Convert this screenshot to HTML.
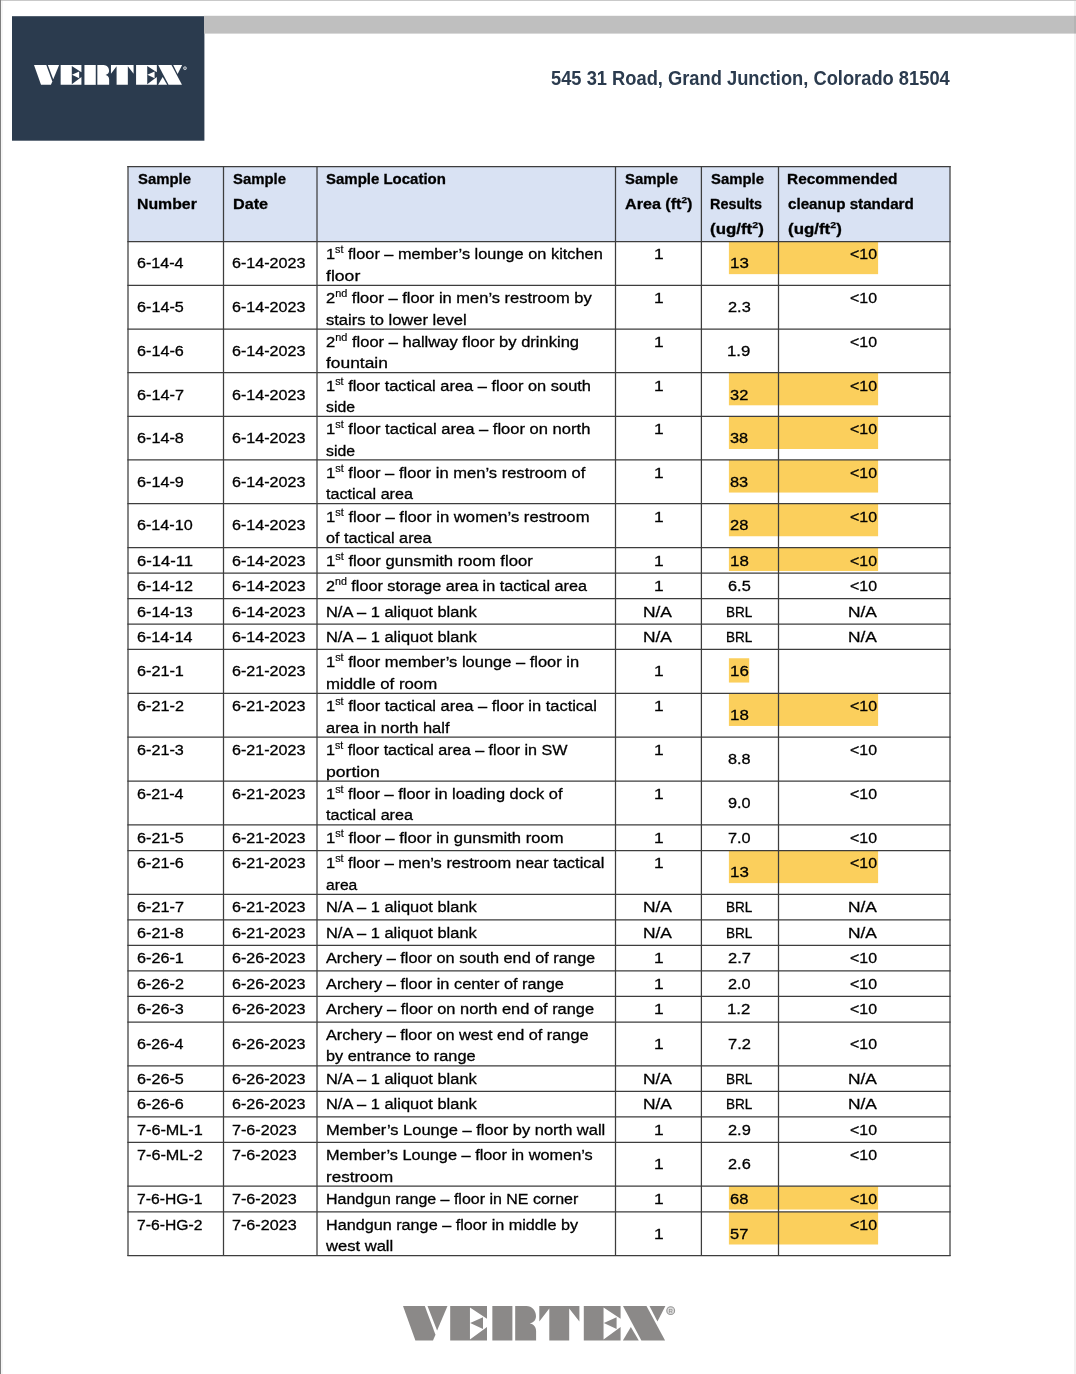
<!DOCTYPE html>
<html><head><meta charset="utf-8"><title>VERTEX sample results</title>
<style>
html,body{margin:0;padding:0;background:#fff;}
body{width:1076px;height:1374px;position:relative;overflow:hidden;font-family:"Liberation Sans",sans-serif;color:#000;}
.a{position:absolute;}
.t,.b,.addr{position:absolute;white-space:nowrap;transform-origin:0 0;line-height:20px;font-size:15.3px;}
.t{-webkit-text-stroke:0.3px #000;}
.b{font-weight:bold;font-size:15.3px;-webkit-text-stroke:0.3px #000;}
.addr{font-weight:bold;font-size:20.4px;line-height:26px;color:#2b3b4e;}
.sp{font-size:0.66em;position:relative;top:-0.6em;line-height:0;-webkit-text-stroke-width:0.18px;}
.b .sp{font-size:0.63em;top:-0.63em;-webkit-text-stroke-width:0.25px;}
#tx{position:absolute;left:0;top:0;width:1076px;height:1374px;will-change:transform;}
</style></head>
<body>
<svg class="a" style="left:0;top:0" width="1076" height="1374" viewBox="0 0 1076 1374"><rect x="12" y="16.2" width="192.4" height="124.5" fill="#2b3b4e"/><rect x="204" y="15.8" width="872" height="17.8" fill="#bfbfbf"/><rect x="128.00" y="166.60" width="822.00" height="74.95" fill="#d9e2f3"/><rect x="728.90" y="241.55" width="149.20" height="32.60" fill="#fbcf5c"/><rect x="728.90" y="372.70" width="149.20" height="32.60" fill="#fbcf5c"/><rect x="728.90" y="416.40" width="149.20" height="32.60" fill="#fbcf5c"/><rect x="728.90" y="459.95" width="149.20" height="32.60" fill="#fbcf5c"/><rect x="728.90" y="503.65" width="149.20" height="32.60" fill="#fbcf5c"/><rect x="728.90" y="547.60" width="149.20" height="23.40" fill="#fbcf5c"/><rect x="728.90" y="658.25" width="20.30" height="24.30" fill="#fbcf5c"/><rect x="728.90" y="693.35" width="149.20" height="32.60" fill="#fbcf5c"/><rect x="728.90" y="850.50" width="149.20" height="32.60" fill="#fbcf5c"/><rect x="728.90" y="1186.15" width="149.20" height="23.40" fill="#fbcf5c"/><rect x="728.90" y="1211.90" width="149.20" height="32.60" fill="#fbcf5c"/><rect x="0" y="0" width="1076" height="1" fill="#c9c9c9"/><rect x="0" y="0" width="1" height="1374" fill="#7f7f7f"/><rect x="1" y="1" width="2" height="1374" fill="#000" fill-opacity="0.035"/><rect x="1074" y="1" width="2" height="1374" fill="#000" fill-opacity="0.055"/></svg>
<svg class="a" style="left:33.85px;top:65px;overflow:visible" width="148.15" height="19.85" viewBox="0 0 262.4 34.7" preserveAspectRatio="none" fill="#fff"><path d="M0,0H21.8L32.5,28.9L30,34.7H12.4Z"/><path d="M24.5,0H44.5L34.1,24.7Z"/>
<g transform="translate(47.2,0)"><path d="M0,0H36.8V12.8L19.75,1.6V33.7L36.8,21.1V34.7H0Z M20,17.2L32.8,11.2V23.2Z"/></g>
<path d="M89.35,0H109.4V34.7H89.35Z"/>
<path d="M112.2,0H123.4C129,0.2 133,4.4 133,10.2C133,14 130.6,16.6 126.7,17.4C130.6,18.3 133.1,21 133.1,25.2V34.7H112.2Z"/>
<path d="M136.3,0H176.4V15.5L166.2,2.4V34.7H146.3V2.4L136.3,15.5Z"/>
<g transform="translate(180.8,0)"><path d="M0,0H36.8V12.8L19.75,1.6V33.7L36.8,21.1V34.7H0Z M20,17.2L32.8,11.2V23.2Z"/></g>
<path d="M220,0H243.5L262.1,34.7H238.4Z"/><path d="M246.5,0H262.4L254.45,15.7Z"/><path d="M219.9,34.7H235.8L227.85,21.1Z"/><circle cx="267.4" cy="5.6" r="2.6" fill="#fff" fill-opacity="0.35" stroke="#e4e7ea" stroke-width="1.2"/></svg>
<svg class="a" style="left:0;top:0" width="1076" height="1374" viewBox="0 0 1076 1374" fill="none" stroke="#3d3d3d" stroke-width="1.25"><path d="M127.38,166.60H950.62"/><path d="M127.38,241.55H950.62"/><path d="M127.38,285.35H950.62"/><path d="M127.38,329.10H950.62"/><path d="M127.38,372.70H950.62"/><path d="M127.38,416.40H950.62"/><path d="M127.38,459.95H950.62"/><path d="M127.38,503.65H950.62"/><path d="M127.38,547.60H950.62"/><path d="M127.38,573.10H950.62"/><path d="M127.38,598.60H950.62"/><path d="M127.38,624.05H950.62"/><path d="M127.38,649.45H950.62"/><path d="M127.38,693.35H950.62"/><path d="M127.38,737.20H950.62"/><path d="M127.38,781.10H950.62"/><path d="M127.38,824.95H950.62"/><path d="M127.38,850.50H950.62"/><path d="M127.38,894.45H950.62"/><path d="M127.38,919.90H950.62"/><path d="M127.38,945.40H950.62"/><path d="M127.38,970.90H950.62"/><path d="M127.38,996.40H950.62"/><path d="M127.38,1022.00H950.62"/><path d="M127.38,1065.80H950.62"/><path d="M127.38,1091.30H950.62"/><path d="M127.38,1116.95H950.62"/><path d="M127.38,1142.40H950.62"/><path d="M127.38,1186.15H950.62"/><path d="M127.38,1211.90H950.62"/><path d="M127.38,1255.50H950.62"/><path d="M128.00,165.98V1256.12"/><path d="M223.50,165.98V1256.12"/><path d="M317.00,165.98V1256.12"/><path d="M615.50,165.98V1256.12"/><path d="M701.40,165.98V1256.12"/><path d="M778.50,165.98V1256.12"/><path d="M950.00,165.98V1256.12"/></svg>
<div id="tx">
<span class="b" style="top:169px;left:137.57px;transform:scaleX(0.9746);">Sample</span>
<span class="b" style="top:194px;left:136.94px;transform:scaleX(1.0346);">Number</span>
<span class="b" style="top:169px;left:233.27px;transform:scaleX(0.9746);">Sample</span>
<span class="b" style="top:194px;left:232.62px;transform:scaleX(1.0598);">Date</span>
<span class="b" style="top:169px;left:326.47px;transform:scaleX(0.9792);">Sample Location</span>
<span class="b" style="top:169px;left:624.77px;transform:scaleX(0.9746);">Sample</span>
<span class="b" style="top:194px;left:624.80px;transform:scaleX(1.0545);">Area (ft<span class="sp">2</span>)</span>
<span class="b" style="top:169px;left:710.67px;transform:scaleX(0.9746);">Sample</span>
<span class="b" style="top:194px;left:710.13px;transform:scaleX(0.9438);">Results</span>
<span class="b" style="top:219px;left:710.26px;transform:scaleX(1.1043);">(ug/ft<span class="sp">2</span>)</span>
<span class="b" style="top:169px;left:787.47px;transform:scaleX(1.0072);">Recommended</span>
<span class="b" style="top:194px;left:787.91px;transform:scaleX(0.9932);">cleanup standard</span>
<span class="b" style="top:219px;left:787.66px;transform:scaleX(1.1043);">(ug/ft<span class="sp">2</span>)</span>
<span class="addr" style="top:65px;left:551.14px;transform:scaleX(0.8977);">545 31 Road, Grand Junction, Colorado 81504</span>
<span class="t" style="top:253px;left:137.00px;transform:scaleX(1.0532);">6-14-4</span>
<span class="t" style="top:253px;left:231.90px;transform:scaleX(1.0524);">6-14-2023</span>
<span class="t" style="top:244px;left:325.70px;transform:scaleX(1.0686);">1<span class="sp">st</span> floor – member’s lounge on kitchen</span>
<span class="t" style="top:266px;left:325.70px;transform:scaleX(1.1521);">floor</span>
<span class="t" style="top:244px;left:653.53px;transform:scaleX(1.1358);">1</span>
<span class="t" style="top:253px;left:729.61px;transform:scaleX(1.1069);">13</span>
<span class="t" style="top:244px;left:850.01px;transform:scaleX(1.0406);"><10</span>
<span class="t" style="top:297px;left:137.00px;transform:scaleX(1.0579);">6-14-5</span>
<span class="t" style="top:297px;left:231.90px;transform:scaleX(1.0524);">6-14-2023</span>
<span class="t" style="top:288px;left:325.70px;transform:scaleX(1.0778);">2<span class="sp">nd</span> floor – floor in men’s restroom by</span>
<span class="t" style="top:310px;left:325.70px;transform:scaleX(1.0809);">stairs to lower level</span>
<span class="t" style="top:288px;left:653.53px;transform:scaleX(1.1358);">1</span>
<span class="t" style="top:297px;left:727.88px;transform:scaleX(1.0694);">2.3</span>
<span class="t" style="top:288px;left:850.01px;transform:scaleX(1.0406);"><10</span>
<span class="t" style="top:341px;left:137.00px;transform:scaleX(1.0586);">6-14-6</span>
<span class="t" style="top:341px;left:231.90px;transform:scaleX(1.0524);">6-14-2023</span>
<span class="t" style="top:332px;left:325.70px;transform:scaleX(1.0815);">2<span class="sp">nd</span> floor – hallway floor by drinking</span>
<span class="t" style="top:353px;left:325.70px;transform:scaleX(1.1358);">fountain</span>
<span class="t" style="top:332px;left:653.53px;transform:scaleX(1.1358);">1</span>
<span class="t" style="top:341px;left:727.42px;transform:scaleX(1.0942);">1.9</span>
<span class="t" style="top:332px;left:850.01px;transform:scaleX(1.0406);"><10</span>
<span class="t" style="top:385px;left:137.00px;transform:scaleX(1.0610);">6-14-7</span>
<span class="t" style="top:385px;left:231.90px;transform:scaleX(1.0524);">6-14-2023</span>
<span class="t" style="top:376px;left:325.70px;transform:scaleX(1.0736);">1<span class="sp">st</span> floor tactical area – floor on south</span>
<span class="t" style="top:397px;left:325.70px;transform:scaleX(1.0335);">side</span>
<span class="t" style="top:376px;left:653.53px;transform:scaleX(1.1358);">1</span>
<span class="t" style="top:385px;left:730.28px;transform:scaleX(1.0726);">32</span>
<span class="t" style="top:376px;left:850.01px;transform:scaleX(1.0406);"><10</span>
<span class="t" style="top:428px;left:137.00px;transform:scaleX(1.0585);">6-14-8</span>
<span class="t" style="top:428px;left:231.90px;transform:scaleX(1.0524);">6-14-2023</span>
<span class="t" style="top:419px;left:325.70px;transform:scaleX(1.0824);">1<span class="sp">st</span> floor tactical area – floor on north</span>
<span class="t" style="top:441px;left:325.70px;transform:scaleX(1.0335);">side</span>
<span class="t" style="top:419px;left:653.53px;transform:scaleX(1.1358);">1</span>
<span class="t" style="top:428px;left:730.28px;transform:scaleX(1.0654);">38</span>
<span class="t" style="top:419px;left:850.01px;transform:scaleX(1.0406);"><10</span>
<span class="t" style="top:472px;left:137.00px;transform:scaleX(1.0599);">6-14-9</span>
<span class="t" style="top:472px;left:231.90px;transform:scaleX(1.0524);">6-14-2023</span>
<span class="t" style="top:463px;left:325.70px;transform:scaleX(1.0821);">1<span class="sp">st</span> floor – floor in men’s restroom of</span>
<span class="t" style="top:484px;left:325.70px;transform:scaleX(1.0535);">tactical area</span>
<span class="t" style="top:463px;left:653.53px;transform:scaleX(1.1358);">1</span>
<span class="t" style="top:472px;left:730.19px;transform:scaleX(1.0715);">83</span>
<span class="t" style="top:463px;left:850.01px;transform:scaleX(1.0406);"><10</span>
<span class="t" style="top:515px;left:137.00px;transform:scaleX(1.0568);">6-14-10</span>
<span class="t" style="top:515px;left:231.90px;transform:scaleX(1.0524);">6-14-2023</span>
<span class="t" style="top:507px;left:325.70px;transform:scaleX(1.0878);">1<span class="sp">st</span> floor – floor in women’s restroom</span>
<span class="t" style="top:528px;left:325.70px;transform:scaleX(1.0615);">of tactical area</span>
<span class="t" style="top:507px;left:653.53px;transform:scaleX(1.1358);">1</span>
<span class="t" style="top:515px;left:730.07px;transform:scaleX(1.0782);">28</span>
<span class="t" style="top:507px;left:850.01px;transform:scaleX(1.0406);"><10</span>
<span class="t" style="top:551px;left:137.00px;transform:scaleX(1.0836);">6-14-11</span>
<span class="t" style="top:551px;left:231.90px;transform:scaleX(1.0524);">6-14-2023</span>
<span class="t" style="top:551px;left:325.70px;transform:scaleX(1.0895);">1<span class="sp">st</span> floor gunsmith room floor</span>
<span class="t" style="top:551px;left:653.53px;transform:scaleX(1.1358);">1</span>
<span class="t" style="top:551px;left:729.61px;transform:scaleX(1.1063);">18</span>
<span class="t" style="top:551px;left:850.01px;transform:scaleX(1.0406);"><10</span>
<span class="t" style="top:576px;left:137.00px;transform:scaleX(1.0603);">6-14-12</span>
<span class="t" style="top:576px;left:231.90px;transform:scaleX(1.0524);">6-14-2023</span>
<span class="t" style="top:576px;left:325.70px;transform:scaleX(1.0573);">2<span class="sp">nd</span> floor storage area in tactical area</span>
<span class="t" style="top:576px;left:653.53px;transform:scaleX(1.1358);">1</span>
<span class="t" style="top:576px;left:727.87px;transform:scaleX(1.0682);">6.5</span>
<span class="t" style="top:576px;left:850.01px;transform:scaleX(1.0406);"><10</span>
<span class="t" style="top:602px;left:137.00px;transform:scaleX(1.0584);">6-14-13</span>
<span class="t" style="top:602px;left:231.90px;transform:scaleX(1.0524);">6-14-2023</span>
<span class="t" style="top:602px;left:325.70px;transform:scaleX(1.0745);">N/A – 1 aliquot blank</span>
<span class="t" style="top:602px;left:643.42px;transform:scaleX(1.1357);">N/A</span>
<span class="t" style="top:602px;left:725.79px;transform:scaleX(0.8856);">BRL</span>
<span class="t" style="top:602px;left:848.42px;transform:scaleX(1.1357);">N/A</span>
<span class="t" style="top:627px;left:137.00px;transform:scaleX(1.0538);">6-14-14</span>
<span class="t" style="top:627px;left:231.90px;transform:scaleX(1.0524);">6-14-2023</span>
<span class="t" style="top:627px;left:325.70px;transform:scaleX(1.0745);">N/A – 1 aliquot blank</span>
<span class="t" style="top:627px;left:643.42px;transform:scaleX(1.1357);">N/A</span>
<span class="t" style="top:627px;left:725.79px;transform:scaleX(0.8856);">BRL</span>
<span class="t" style="top:627px;left:848.42px;transform:scaleX(1.1357);">N/A</span>
<span class="t" style="top:661px;left:137.00px;transform:scaleX(1.0605);">6-21-1</span>
<span class="t" style="top:661px;left:231.90px;transform:scaleX(1.0524);">6-21-2023</span>
<span class="t" style="top:652px;left:325.70px;transform:scaleX(1.0761);">1<span class="sp">st</span> floor member’s lounge – floor in</span>
<span class="t" style="top:674px;left:325.70px;transform:scaleX(1.0992);">middle of room</span>
<span class="t" style="top:661px;left:653.53px;transform:scaleX(1.1358);">1</span>
<span class="t" style="top:661px;left:729.61px;transform:scaleX(1.1069);">16</span>
<span class="t" style="top:696px;left:137.00px;transform:scaleX(1.0610);">6-21-2</span>
<span class="t" style="top:696px;left:231.90px;transform:scaleX(1.0524);">6-21-2023</span>
<span class="t" style="top:696px;left:325.70px;transform:scaleX(1.0755);">1<span class="sp">st</span> floor tactical area – floor in tactical</span>
<span class="t" style="top:718px;left:325.70px;transform:scaleX(1.0755);">area in north half</span>
<span class="t" style="top:696px;left:653.53px;transform:scaleX(1.1358);">1</span>
<span class="t" style="top:705px;left:729.61px;transform:scaleX(1.1063);">18</span>
<span class="t" style="top:696px;left:850.01px;transform:scaleX(1.0406);"><10</span>
<span class="t" style="top:740px;left:137.00px;transform:scaleX(1.0586);">6-21-3</span>
<span class="t" style="top:740px;left:231.90px;transform:scaleX(1.0524);">6-21-2023</span>
<span class="t" style="top:740px;left:325.70px;transform:scaleX(1.0553);">1<span class="sp">st</span> floor tactical area – floor in SW</span>
<span class="t" style="top:762px;left:325.70px;transform:scaleX(1.1510);">portion</span>
<span class="t" style="top:740px;left:653.53px;transform:scaleX(1.1358);">1</span>
<span class="t" style="top:749px;left:727.99px;transform:scaleX(1.0634);">8.8</span>
<span class="t" style="top:740px;left:850.01px;transform:scaleX(1.0406);"><10</span>
<span class="t" style="top:784px;left:137.00px;transform:scaleX(1.0532);">6-21-4</span>
<span class="t" style="top:784px;left:231.90px;transform:scaleX(1.0524);">6-21-2023</span>
<span class="t" style="top:784px;left:325.70px;transform:scaleX(1.0727);">1<span class="sp">st</span> floor – floor in loading dock of</span>
<span class="t" style="top:805px;left:325.70px;transform:scaleX(1.0535);">tactical area</span>
<span class="t" style="top:784px;left:653.53px;transform:scaleX(1.1358);">1</span>
<span class="t" style="top:793px;left:727.94px;transform:scaleX(1.0626);">9.0</span>
<span class="t" style="top:784px;left:850.01px;transform:scaleX(1.0406);"><10</span>
<span class="t" style="top:828px;left:137.00px;transform:scaleX(1.0579);">6-21-5</span>
<span class="t" style="top:828px;left:231.90px;transform:scaleX(1.0524);">6-21-2023</span>
<span class="t" style="top:828px;left:325.70px;transform:scaleX(1.0863);">1<span class="sp">st</span> floor – floor in gunsmith room</span>
<span class="t" style="top:828px;left:653.53px;transform:scaleX(1.1358);">1</span>
<span class="t" style="top:828px;left:727.86px;transform:scaleX(1.0662);">7.0</span>
<span class="t" style="top:828px;left:850.01px;transform:scaleX(1.0406);"><10</span>
<span class="t" style="top:853px;left:137.00px;transform:scaleX(1.0586);">6-21-6</span>
<span class="t" style="top:853px;left:231.90px;transform:scaleX(1.0524);">6-21-2023</span>
<span class="t" style="top:853px;left:325.70px;transform:scaleX(1.0735);">1<span class="sp">st</span> floor – men’s restroom near tactical</span>
<span class="t" style="top:875px;left:325.70px;transform:scaleX(1.0220);">area</span>
<span class="t" style="top:853px;left:653.53px;transform:scaleX(1.1358);">1</span>
<span class="t" style="top:862px;left:729.61px;transform:scaleX(1.1069);">13</span>
<span class="t" style="top:853px;left:850.01px;transform:scaleX(1.0406);"><10</span>
<span class="t" style="top:897px;left:137.00px;transform:scaleX(1.0610);">6-21-7</span>
<span class="t" style="top:897px;left:231.90px;transform:scaleX(1.0524);">6-21-2023</span>
<span class="t" style="top:897px;left:325.70px;transform:scaleX(1.0745);">N/A – 1 aliquot blank</span>
<span class="t" style="top:897px;left:643.42px;transform:scaleX(1.1357);">N/A</span>
<span class="t" style="top:897px;left:725.79px;transform:scaleX(0.8856);">BRL</span>
<span class="t" style="top:897px;left:848.42px;transform:scaleX(1.1357);">N/A</span>
<span class="t" style="top:923px;left:137.00px;transform:scaleX(1.0585);">6-21-8</span>
<span class="t" style="top:923px;left:231.90px;transform:scaleX(1.0524);">6-21-2023</span>
<span class="t" style="top:923px;left:325.70px;transform:scaleX(1.0745);">N/A – 1 aliquot blank</span>
<span class="t" style="top:923px;left:643.42px;transform:scaleX(1.1357);">N/A</span>
<span class="t" style="top:923px;left:725.79px;transform:scaleX(0.8856);">BRL</span>
<span class="t" style="top:923px;left:848.42px;transform:scaleX(1.1357);">N/A</span>
<span class="t" style="top:948px;left:137.00px;transform:scaleX(1.0605);">6-26-1</span>
<span class="t" style="top:948px;left:231.90px;transform:scaleX(1.0524);">6-26-2023</span>
<span class="t" style="top:948px;left:325.70px;transform:scaleX(1.0652);">Archery – floor on south end of range</span>
<span class="t" style="top:948px;left:653.53px;transform:scaleX(1.1358);">1</span>
<span class="t" style="top:948px;left:727.87px;transform:scaleX(1.0747);">2.7</span>
<span class="t" style="top:948px;left:850.01px;transform:scaleX(1.0406);"><10</span>
<span class="t" style="top:974px;left:137.00px;transform:scaleX(1.0610);">6-26-2</span>
<span class="t" style="top:974px;left:231.90px;transform:scaleX(1.0524);">6-26-2023</span>
<span class="t" style="top:974px;left:325.70px;transform:scaleX(1.0675);">Archery – floor in center of range</span>
<span class="t" style="top:974px;left:653.53px;transform:scaleX(1.1358);">1</span>
<span class="t" style="top:974px;left:727.88px;transform:scaleX(1.0654);">2.0</span>
<span class="t" style="top:974px;left:850.01px;transform:scaleX(1.0406);"><10</span>
<span class="t" style="top:999px;left:137.00px;transform:scaleX(1.0586);">6-26-3</span>
<span class="t" style="top:999px;left:231.90px;transform:scaleX(1.0524);">6-26-2023</span>
<span class="t" style="top:999px;left:325.70px;transform:scaleX(1.0724);">Archery – floor on north end of range</span>
<span class="t" style="top:999px;left:653.53px;transform:scaleX(1.1358);">1</span>
<span class="t" style="top:999px;left:727.42px;transform:scaleX(1.0967);">1.2</span>
<span class="t" style="top:999px;left:850.01px;transform:scaleX(1.0406);"><10</span>
<span class="t" style="top:1034px;left:137.00px;transform:scaleX(1.0532);">6-26-4</span>
<span class="t" style="top:1034px;left:231.90px;transform:scaleX(1.0524);">6-26-2023</span>
<span class="t" style="top:1025px;left:325.70px;transform:scaleX(1.0646);">Archery – floor on west end of range</span>
<span class="t" style="top:1046px;left:325.70px;transform:scaleX(1.0655);">by entrance to range</span>
<span class="t" style="top:1034px;left:653.53px;transform:scaleX(1.1358);">1</span>
<span class="t" style="top:1034px;left:727.86px;transform:scaleX(1.0755);">7.2</span>
<span class="t" style="top:1034px;left:850.01px;transform:scaleX(1.0406);"><10</span>
<span class="t" style="top:1069px;left:137.00px;transform:scaleX(1.0579);">6-26-5</span>
<span class="t" style="top:1069px;left:231.90px;transform:scaleX(1.0524);">6-26-2023</span>
<span class="t" style="top:1069px;left:325.70px;transform:scaleX(1.0745);">N/A – 1 aliquot blank</span>
<span class="t" style="top:1069px;left:643.42px;transform:scaleX(1.1357);">N/A</span>
<span class="t" style="top:1069px;left:725.79px;transform:scaleX(0.8856);">BRL</span>
<span class="t" style="top:1069px;left:848.42px;transform:scaleX(1.1357);">N/A</span>
<span class="t" style="top:1094px;left:137.00px;transform:scaleX(1.0586);">6-26-6</span>
<span class="t" style="top:1094px;left:231.90px;transform:scaleX(1.0524);">6-26-2023</span>
<span class="t" style="top:1094px;left:325.70px;transform:scaleX(1.0745);">N/A – 1 aliquot blank</span>
<span class="t" style="top:1094px;left:643.42px;transform:scaleX(1.1357);">N/A</span>
<span class="t" style="top:1094px;left:725.79px;transform:scaleX(0.8856);">BRL</span>
<span class="t" style="top:1094px;left:848.42px;transform:scaleX(1.1357);">N/A</span>
<span class="t" style="top:1120px;left:137.00px;transform:scaleX(1.0601);">7-6-ML-1</span>
<span class="t" style="top:1120px;left:231.90px;transform:scaleX(1.0551);">7-6-2023</span>
<span class="t" style="top:1120px;left:325.70px;transform:scaleX(1.0754);">Member’s Lounge – floor by north wall</span>
<span class="t" style="top:1120px;left:653.53px;transform:scaleX(1.1358);">1</span>
<span class="t" style="top:1120px;left:727.87px;transform:scaleX(1.0723);">2.9</span>
<span class="t" style="top:1120px;left:850.01px;transform:scaleX(1.0406);"><10</span>
<span class="t" style="top:1145px;left:137.00px;transform:scaleX(1.0605);">7-6-ML-2</span>
<span class="t" style="top:1145px;left:231.90px;transform:scaleX(1.0551);">7-6-2023</span>
<span class="t" style="top:1145px;left:325.70px;transform:scaleX(1.0672);">Member’s Lounge – floor in women’s</span>
<span class="t" style="top:1167px;left:325.70px;transform:scaleX(1.1137);">restroom</span>
<span class="t" style="top:1154px;left:653.53px;transform:scaleX(1.1358);">1</span>
<span class="t" style="top:1154px;left:727.88px;transform:scaleX(1.0694);">2.6</span>
<span class="t" style="top:1145px;left:850.01px;transform:scaleX(1.0406);"><10</span>
<span class="t" style="top:1189px;left:137.00px;transform:scaleX(1.0253);">7-6-HG-1</span>
<span class="t" style="top:1189px;left:231.90px;transform:scaleX(1.0551);">7-6-2023</span>
<span class="t" style="top:1189px;left:325.70px;transform:scaleX(1.0446);">Handgun range – floor in NE corner</span>
<span class="t" style="top:1189px;left:653.53px;transform:scaleX(1.1358);">1</span>
<span class="t" style="top:1189px;left:730.06px;transform:scaleX(1.0787);">68</span>
<span class="t" style="top:1189px;left:850.01px;transform:scaleX(1.0406);"><10</span>
<span class="t" style="top:1215px;left:137.00px;transform:scaleX(1.0257);">7-6-HG-2</span>
<span class="t" style="top:1215px;left:231.90px;transform:scaleX(1.0551);">7-6-2023</span>
<span class="t" style="top:1215px;left:325.70px;transform:scaleX(1.0585);">Handgun range – floor in middle by</span>
<span class="t" style="top:1236px;left:325.70px;transform:scaleX(1.0829);">west wall</span>
<span class="t" style="top:1224px;left:653.53px;transform:scaleX(1.1358);">1</span>
<span class="t" style="top:1224px;left:730.24px;transform:scaleX(1.0746);">57</span>
<span class="t" style="top:1215px;left:850.01px;transform:scaleX(1.0406);"><10</span>
</div>
<svg class="a" style="left:402.9px;top:1306.25px;overflow:visible" width="262.4" height="34.5" viewBox="0 0 262.4 34.7" preserveAspectRatio="none" fill="#8b8988"><path d="M0,0H21.8L32.5,28.9L30,34.7H12.4Z"/><path d="M24.5,0H44.5L34.1,24.7Z"/>
<g transform="translate(47.2,0)"><path d="M0,0H36.8V12.8L19.75,1.6V33.7L36.8,21.1V34.7H0Z M20,17.2L32.8,11.2V23.2Z"/></g>
<path d="M89.35,0H109.4V34.7H89.35Z"/>
<path d="M112.2,0H123.4C129,0.2 133,4.4 133,10.2C133,14 130.6,16.6 126.7,17.4C130.6,18.3 133.1,21 133.1,25.2V34.7H112.2Z"/>
<path d="M136.3,0H176.4V15.5L166.2,2.4V34.7H146.3V2.4L136.3,15.5Z"/>
<g transform="translate(180.8,0)"><path d="M0,0H36.8V12.8L19.75,1.6V33.7L36.8,21.1V34.7H0Z M20,17.2L32.8,11.2V23.2Z"/></g>
<path d="M220,0H243.5L262.1,34.7H238.4Z"/><path d="M246.5,0H262.4L254.45,15.7Z"/><path d="M219.9,34.7H235.8L227.85,21.1Z"/><circle cx="267.7" cy="4.7" r="3.9" fill="#dcdcdc" stroke="#979797" stroke-width="1.1"/><text x="267.7" y="6.9" font-size="6" font-family="Liberation Sans" text-anchor="middle" fill="#8b8988">R</text></svg>
</body></html>
